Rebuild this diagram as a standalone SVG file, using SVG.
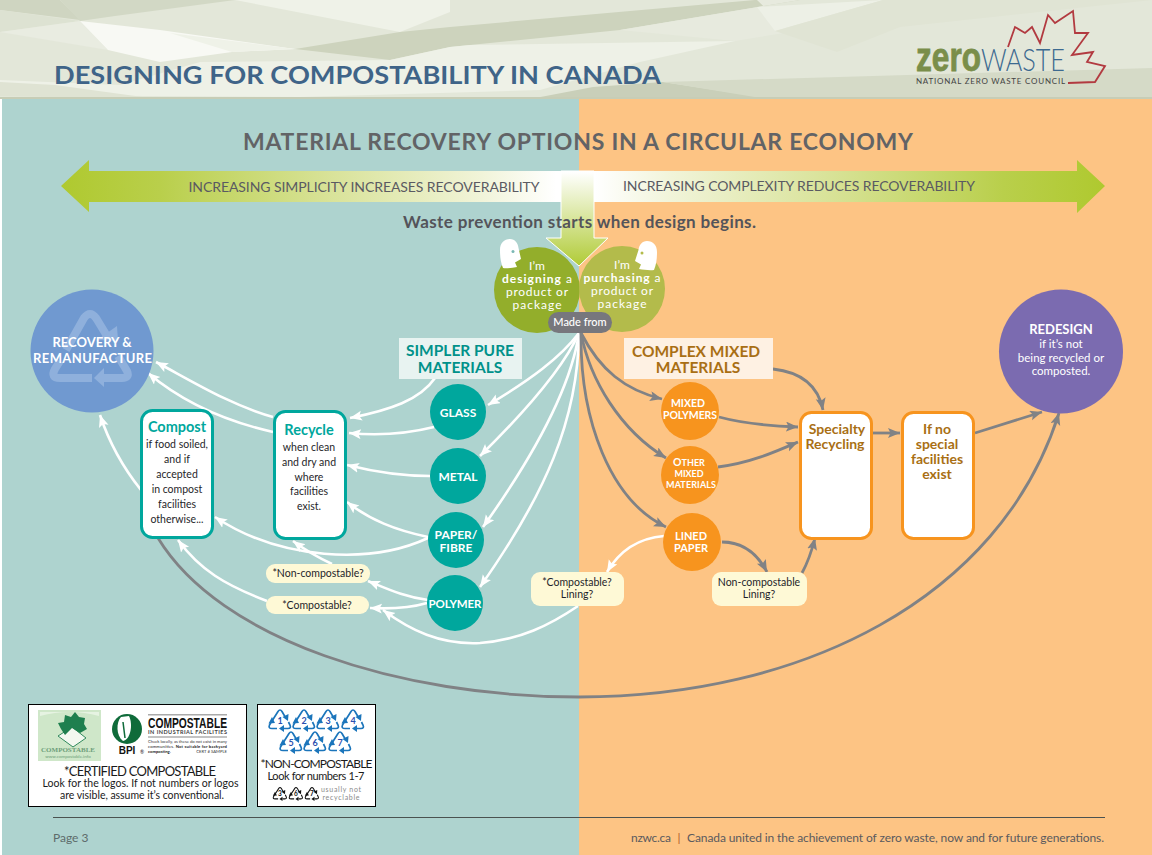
<svg xmlns="http://www.w3.org/2000/svg" xmlns:xlink="http://www.w3.org/1999/xlink" width="1152" height="855" viewBox="0 0 1152 855">
<style>
text{font-family:"Lato","Liberation Sans",sans-serif;text-anchor:middle}
.st{text-anchor:start}.en{text-anchor:end}
.w{fill:none;stroke:#fff;stroke-width:2.6;marker-end:url(#mw)}
.g{fill:none;stroke:#808285;stroke-width:2.8;marker-end:url(#mg)}
.teal{fill:#00A79D}.org{fill:#F7941E}
.tbox{fill:#fff;stroke:#00A79D;stroke-width:3}
.obox{fill:#fff;stroke:#F7941E;stroke-width:3}
.pill{fill:#FEF9D6}
.mat{fill:#fff;font-weight:700}
.small{fill:#1f1f2a;font-size:10.5px}
.pt{fill:#1f1f2a;font-size:10.5px}
.bt{fill:#00A79D;font-weight:700;font-size:14.5px}
.ot{fill:#A96F14;font-weight:700;font-size:14px}
.circ{fill:#fff;font-size:12px}
.rec{fill:none;stroke:#8FB0DC;stroke-width:8}
.tri{fill:none;stroke:currentColor;stroke-width:1.7}
.num{font-size:9px;font-weight:700}
.lg{fill:#1a1a1a}
</style>
<defs>
<marker id="mw" markerUnits="userSpaceOnUse" markerWidth="13" markerHeight="12" refX="12" refY="5" orient="auto"><path d="M0,0L12,5L0,10L2.5,5Z" fill="#fff"/></marker>
<marker id="mg" markerUnits="userSpaceOnUse" markerWidth="13" markerHeight="12" refX="12" refY="5" orient="auto"><path d="M0,0L12,5L0,10L2.5,5Z" fill="#808285"/></marker>
<linearGradient id="gl" gradientUnits="userSpaceOnUse" x1="61" y1="0" x2="556" y2="0"><stop offset="0" stop-color="#AFC92F"/><stop offset=".2" stop-color="#B9CF4B"/><stop offset=".55" stop-color="#D9E39A"/><stop offset=".85" stop-color="#F1F4D9"/><stop offset="1" stop-color="#fff"/></linearGradient>
<linearGradient id="gr" gradientUnits="userSpaceOnUse" x1="1105" y1="0" x2="595" y2="0"><stop offset="0" stop-color="#AFC92F"/><stop offset=".2" stop-color="#B9CF4B"/><stop offset=".55" stop-color="#D9E39A"/><stop offset=".85" stop-color="#F1F4D9"/><stop offset="1" stop-color="#fff"/></linearGradient>
<linearGradient id="gd" gradientUnits="userSpaceOnUse" x1="0" y1="172" x2="0" y2="266"><stop offset="0" stop-color="#fff"/><stop offset="1" stop-color="#B0CB36"/></linearGradient>
<g id="tr">
<path class="tri" d="M-8,2L-2,-7.5Q0,-10.5 2,-7.5L5.5,-1.5"/><path d="M2.5,-2L8.5,-5L8,2Z" fill="currentColor"/>
<path class="tri" d="M8.5,3L10,6Q11.5,9.5 8,9.5L4,9.5"/><path d="M4,6L4,13L-1,9.5Z" fill="currentColor"/>
<path class="tri" d="M-3,9.5L-8,9.5Q-12,9.5 -10.5,6L-8.5,2.5"/><path d="M-11.5,4.5L-8,-2L-5,4Z" fill="currentColor"/>
</g>
</defs>

<g id="background">
<rect width="1152" height="855" fill="#fff"/>
<rect x="2" y="99" width="577" height="756" fill="#AED3CF"/>
<rect x="579" y="99" width="573" height="756" fill="#FDC484"/>
</g>

<g id="header">
<rect width="1152" height="99" fill="#E3E7D9"/>
<polygon points="0,0 60,0 80,20 0,10" fill="#CFD5C1"/>
<polygon points="60,0 235,0 115,16 80,21" fill="#D2D8C5"/>
<polygon points="0,10 80,21 0,32" fill="#DDE2D2"/>
<polygon points="0,32 80,21 108,50 0,32" fill="#E9ECE1"/>
<polygon points="80,21 160,30 295,49 232,52 160,62 108,50" fill="#F8F9F4"/>
<polygon points="160,30 232,52 295,49 170,33" fill="#EFF2E8"/>
<polygon points="235,0 450,0 450,12 400,32" fill="#EFF2E8"/>
<polygon points="295,49 400,32 450,27 755,0 800,0 620,30 470,45 450,47 390,60" fill="#CDD3BD"/>
<polygon points="200,62 390,60 450,47 470,45 735,41 640,62 540,90 300,97 0,95 0,80 120,85" fill="#EEF1E7"/>
<polygon points="620,30 800,0 757,0 790,32 735,41" fill="#E7EADE"/>
<polygon points="757,7 883,0 775,31" fill="#EDF0E6"/>
<polygon points="775,31 837,52 900,27 1152,0 883,0" fill="#E0E4D4"/>
<polygon points="0,82 55,85 157,99 0,96" fill="#DFE3D3"/>
<polygon points="593,87 663,82 767,98 530,99" fill="#C9CFB9"/>
<polygon points="663,82 1152,68 1152,99 767,99" fill="#D5DAC7"/>
<rect y="97" width="1152" height="2" fill="#C7CDB6"/>
</g>

<g id="logo">
<polyline points="1008,47 1015,27 1025,33 1032,27 1040,43 1048,15 1055,23 1073,11 1075,33 1088,33 1072,55 1093,52 1087,62 1105,66 1095,82 1068,83" fill="none" stroke="#B23A40" stroke-width="1.8"/>
<text class="st" x="916" y="71" font-size="40" font-weight="700" fill="#7A8E4A" stroke="#7A8E4A" stroke-width=".8" textLength="65" lengthAdjust="spacingAndGlyphs" style="font-family:'Liberation Sans',sans-serif">zero</text>
<text class="st" x="981" y="71" font-size="31" font-weight="300" fill="#3D6A90" textLength="84" lengthAdjust="spacingAndGlyphs">WASTE</text>
<text class="st" x="916" y="84" font-size="8" font-weight="400" fill="#444" textLength="149">NATIONAL ZERO WASTE COUNCIL</text>
</g>

<text id="title" class="st" x="54" y="84" font-size="24" font-weight="700" fill="#3F6488" textLength="607" lengthAdjust="spacingAndGlyphs">DESIGNING FOR COMPOSTABILITY IN CANADA</text>
<text id="subtitle" x="578" y="150" font-size="23" font-weight="700" fill="#626366" textLength="670">MATERIAL RECOVERY OPTIONS IN A CIRCULAR ECONOMY</text>

<g id="node-designing">
<circle cx="537" cy="290" r="43" fill="#93AE2B"/>
<path d="M500,250C500,243 504,239 510,239C515,239 518,243 518.500,248L521,259L515,262.500L517,267C512,268 506,268.500 503,268C500.500,262 500,256 500,250Z" fill="#fff"/>
<circle cx="513" cy="251.500" r="1.500" fill="#7BB8B4"/>
<text class="circ" x="537" y="270">I’m</text>
<text class="circ" x="537" y="283" textLength="70"><tspan font-weight="700">designing</tspan> a</text>
<text class="circ" x="537" y="296" textLength="62">product or</text>
<text class="circ" x="537" y="309" textLength="49">package</text>
</g>
<g id="node-purchasing">
<circle cx="622" cy="289" r="43" fill="#B3BB4B"/>
<path d="M657,252C657,245 653,241 647,241C642,241 639,245 638.500,250L635,261L641,264.500L639,269C644,270 650,270.500 654,270C656.500,264 657,258 657,252Z" fill="#fff"/>
<circle cx="642" cy="253" r="1.500" fill="#B3BB4B"/>
<text class="circ" x="622" y="269">I’m</text>
<text class="circ" x="622" y="282" textLength="77"><tspan font-weight="700">purchasing</tspan> a</text>
<text class="circ" x="622" y="295" textLength="62">product or</text>
<text class="circ" x="622" y="308" textLength="49">package</text>
</g>

<g id="arrows">
<path d="M61,186L89,160V171H562V202H89V212Z" fill="url(#gl)"/>
<path d="M1105,186L1077,160V171H594V202H1077V213Z" fill="url(#gr)"/>
<path d="M561,171H594V238H608L579,266L546,238H561Z" fill="url(#gd)" stroke="#fff" stroke-width="1"/>
<text x="364" y="192" font-size="14" fill="#5A5A62" textLength="351">INCREASING SIMPLICITY INCREASES RECOVERABILITY</text>
<text x="799" y="191" font-size="14" fill="#5A5A62" textLength="352">INCREASING COMPLEXITY REDUCES RECOVERABILITY</text>
<text x="579.500" y="228" font-size="17" font-weight="700" fill="#54545A" textLength="353">Waste prevention starts when design begins.</text>
</g>

<g id="connectors">
<path class="w" d="M579,333C560,358 530,380 488,405"/>
<path class="w" d="M579,333C566,362 535,402 480,456"/>
<path class="w" d="M579,333C572,380 545,440 483,527"/>
<path class="w" d="M579,333C578,420 545,495 480,587"/>
<path class="w" d="M435,378C420,400 390,410 350,418"/>
<path class="w" d="M434,427C410,433 380,436 349,433"/>
<path class="w" d="M430,476C400,476 375,472 347,465"/>
<path class="w" d="M428,537C395,530 370,520 347,502"/>
<path class="w" d="M428,538C370,565 280,560 215,517"/>
<path class="w" d="M332,564C315,556 305,550 293,541"/>
<path class="w" d="M428,600C405,597 390,590 368,581"/>
<path class="w" d="M427,603C410,608 390,609 370,608"/>
<path class="w" d="M267,601C225,585 200,570 178,540"/>
<path class="w" d="M273,417C230,405 190,380 156,362"/>
<path class="w" d="M273,432C220,420 180,400 148,373"/>
<path class="w" d="M141,490C125,470 110,445 100,415"/>
<path class="w" d="M664,536C640,538 620,550 607,572"/>
<path class="w" d="M578,606C550,625 520,640 480,643C440,645 410,630 383,610"/>
<path class="g" d="M581,333C600,370 625,390 662,399"/>
<path class="g" d="M581,333C590,380 620,430 666,458"/>
<path class="g" d="M581,333C580,420 610,500 666,527"/>
<path class="g" d="M773,369C800,372 818,385 823,410"/>
<path class="g" d="M719,417C745,424 770,426 798,427"/>
<path class="g" d="M718,467C750,463 775,452 798,442"/>
<path class="g" d="M722,542C745,542 758,555 767,572"/>
<path class="g" d="M802,573C808,562 812,550 815,538"/>
<path class="g" d="M873,433L900,433"/>
<path class="g" d="M975,433L1042,412"/>
<path class="g" d="M158,538C220,640 400,697 579,697C800,697 1000,600 1059,413"/>
</g>

<g id="node-madefrom">
<rect x="548" y="312" width="64" height="21" rx="10.500" fill="#77777D"/>
<text x="580" y="326" font-size="11" font-weight="500" fill="#fff">Made from</text>
</g>

<g id="node-recovery">
<circle cx="92" cy="351" r="61.500" fill="#7099D0"/>
<path class="rec" d="M66,350L84,318Q90,310 96,318L107,336"/><path d="M117,326L97,340L118,341Z" fill="#8FB0DC"/>
<path class="rec" d="M118,356L127,371Q130,378 122,378L104,378"/><path d="M104,368L104,387L94,378Z" fill="#8FB0DC"/>
<path class="rec" d="M92,378L60,378Q50,378 55,369L60,361"/>
<text x="92" y="347" font-size="13" font-weight="700" fill="#fff">RECOVERY &amp;</text>
<text x="92.500" y="363" font-size="13" font-weight="700" fill="#fff" textLength="119">REMANUFACTURE</text>
</g>

<g id="node-redesign">
<circle cx="1061" cy="351.500" r="62" fill="#7B6BB0"/>
<text x="1061" y="334" font-size="13" font-weight="700" fill="#fff">REDESIGN</text>
<text x="1061" y="348" font-size="11.500" fill="#fff">if it’s not</text>
<text x="1061" y="362" font-size="11.500" fill="#fff">being recycled or</text>
<text x="1061" y="375" font-size="11.500" fill="#fff">composted.</text>
</g>

<g id="node-compost">
<rect class="tbox" x="141.500" y="410.500" width="71" height="127" rx="11"/>
<text class="bt" x="177" y="432">Compost</text>
<text class="small" x="177" y="448">if food soiled,</text>
<text class="small" x="177" y="463">and if</text>
<text class="small" x="177" y="478">accepted</text>
<text class="small" x="177" y="493">in compost</text>
<text class="small" x="177" y="508">facilities</text>
<text class="small" x="177" y="523">otherwise...</text>
</g>
<g id="node-recycle">
<rect class="tbox" x="274.500" y="411.500" width="71" height="127" rx="11"/>
<text class="bt" x="309" y="435">Recycle</text>
<text class="small" x="309" y="451">when clean</text>
<text class="small" x="309" y="466">and dry and</text>
<text class="small" x="309" y="481">where</text>
<text class="small" x="309" y="495">facilities</text>
<text class="small" x="309" y="510">exist.</text>
</g>

<g id="node-simpler">
<rect x="399" y="338" width="123" height="41" fill="#E8F3F1"/>
<text x="460" y="356" font-size="15.500" font-weight="700" fill="#00918A">SIMPLER PURE</text>
<text x="460" y="373" font-size="15.500" font-weight="700" fill="#00918A">MATERIALS</text>
</g>
<g id="node-complex">
<rect x="624" y="338" width="149" height="41" fill="#FEF1E3"/>
<text x="696" y="357" font-size="15.500" font-weight="700" fill="#A96F14">COMPLEX MIXED</text>
<text x="698" y="373" font-size="15.500" font-weight="700" fill="#A96F14">MATERIALS</text>
</g>

<g id="node-glass"><circle class="teal" cx="458" cy="412" r="28"/><text class="mat" x="458" y="417" font-size="12">GLASS</text></g>
<g id="node-metal"><circle class="teal" cx="458" cy="476" r="28"/><text class="mat" x="458" y="481" font-size="12">METAL</text></g>
<g id="node-paper"><circle class="teal" cx="456" cy="540" r="28"/><text class="mat" x="456" y="539" font-size="12">PAPER/</text><text class="mat" x="456" y="552" font-size="12">FIBRE</text></g>
<g id="node-polymer"><circle class="teal" cx="455" cy="603" r="28"/><text class="mat" x="455" y="608" font-size="11.500" textLength="53">POLYMER</text></g>

<g id="node-mixedpolymers"><circle class="org" cx="690" cy="411" r="29"/><text class="mat" x="688" y="407" font-size="10.500">MIXED</text><text class="mat" x="690" y="419" font-size="10.500" textLength="54">POLYMERS</text></g>
<g id="node-othermixed"><circle class="org" cx="690" cy="475" r="29"/><text class="mat" x="689" y="466" font-size="9"><tspan font-size="10.500">O</tspan>THER</text><text class="mat" x="689" y="477" font-size="9">MIXED</text><text class="mat" x="691" y="488" font-size="9" textLength="50">MATERIALS</text></g>
<g id="node-lined"><circle class="org" cx="692" cy="542" r="29"/><text class="mat" x="691" y="540" font-size="11">LINED</text><text class="mat" x="691" y="552" font-size="11">PAPER</text></g>

<g id="node-noncompostable"><rect class="pill" x="266" y="564" width="104" height="19" rx="9"/><text class="pt" x="318" y="577">*Non-compostable?</text></g>
<g id="node-compostable"><rect class="pill" x="266" y="596" width="103" height="18" rx="9"/><text class="pt" x="317" y="609">*Compostable?</text></g>
<g id="node-complining"><rect class="pill" x="531" y="572" width="93" height="34" rx="9"/><text class="pt" x="577" y="586">*Compostable?</text><text class="pt" x="577" y="598">Lining?</text></g>
<g id="node-nonlining"><rect class="pill" x="712" y="572" width="95" height="34" rx="9"/><text class="pt" x="759" y="586">Non-compostable</text><text class="pt" x="759" y="598">Lining?</text></g>

<g id="node-specialty">
<rect class="obox" x="800.500" y="412.500" width="71" height="126" rx="11"/>
<text class="ot" x="837" y="434">Specialty</text><text class="ot" x="835" y="449">Recycling</text>
</g>
<g id="node-ifno">
<rect class="obox" x="902.500" y="412.500" width="71" height="126" rx="11"/>
<text class="ot" x="937" y="434">If no</text><text class="ot" x="937" y="449">special</text><text class="ot" x="937" y="464">facilities</text><text class="ot" x="937" y="479">exist</text>
</g>

<g id="legend-certified">
<rect x="28.500" y="704.500" width="218" height="102" fill="#fff" stroke="#000" stroke-width="1"/>
<rect x="38" y="710" width="63" height="51" fill="#CFE7C9"/>
<path d="M40,716Q70,708 99,716V712H40Z" fill="#E6F3E2"/>
<path d="M58,736L72,727L86,738L73,747Z" fill="#F3F8F0" stroke="#2F8A5C" stroke-width="1"/>
<path d="M58,723L64,722L65,715L71,717L75,712L79,717L85,718L84,724L87,729L80,733L72,728L65,735L61,729Z" fill="#1E7F4E"/>
<text x="68" y="752" font-size="7" font-weight="700" fill="#6E9E7A" style="font-family:'Liberation Serif',serif">COMPOSTABLE</text>
<text x="68" y="758" font-size="4.500" fill="#6E9E7A">www.compostable.info</text>
<circle cx="127" cy="729" r="15" fill="#0F6B3A"/>
<path d="M121,717C116,722 116,736 123,741C131,739 133,724 129,716Z" fill="#fff"/>
<path d="M123,722L125,738" stroke="#0F6B3A" stroke-width="1.5"/>
<text x="127" y="754" font-size="10" font-weight="700" fill="#111" style="font-family:'Liberation Sans',sans-serif">BPI</text>
<text x="142" y="754" font-size="5" fill="#111">®</text>
<rect x="148" y="714" width="79" height="1.500" fill="#AAA"/>
<text class="st" x="148" y="728" font-size="14" font-weight="700" fill="#111" textLength="79" lengthAdjust="spacingAndGlyphs" style="font-family:'Liberation Sans',sans-serif">COMPOSTABLE</text>
<text class="st" x="148" y="734" font-size="5.500" font-weight="700" fill="#444" textLength="79">IN INDUSTRIAL FACILITIES</text>
<rect x="148" y="736.500" width="79" height="1" fill="#888"/>
<text class="st" x="148" y="743" font-size="4.200" fill="#333" textLength="79">Check locally, as these do not exist in many</text>
<text class="st" x="148" y="748" font-size="4.200" fill="#222" textLength="79">communities. <tspan font-weight="700">Not suitable for backyard</tspan></text>
<text class="st" x="148" y="753" font-size="4.200" font-weight="700" fill="#222">composting.</text>
<text class="en" x="227" y="753" font-size="4.200" fill="#333">CERT # SAMPLE</text>
<text class="lg" x="140" y="776" font-size="13" textLength="152">*CERTIFIED COMPOSTABLE</text>
<text class="lg" x="140.500" y="787" font-size="10.500" textLength="196">Look for the logos. If not numbers or logos</text>
<text class="lg" x="142" y="799" font-size="10.500" textLength="164">are visible, assume it’s conventional.</text>
</g>

<g id="legend-noncompostable">
<rect x="257.500" y="704.500" width="118" height="102" fill="#fff" stroke="#000" stroke-width="1"/>
<g color="#1B75BB" fill="#2A4FB0">
<use xlink:href="#tr" href="#tr" x="280" y="719"/><text class="num" x="280" y="724">1</text>
<use xlink:href="#tr" href="#tr" x="304" y="719"/><text class="num" x="304" y="724">2</text>
<use xlink:href="#tr" href="#tr" x="328" y="719"/><text class="num" x="328" y="724">3</text>
<use xlink:href="#tr" href="#tr" x="353" y="719"/><text class="num" x="353" y="724">4</text>
<use xlink:href="#tr" href="#tr" x="291" y="741"/><text class="num" x="291" y="746">5</text>
<use xlink:href="#tr" href="#tr" x="315" y="741"/><text class="num" x="315" y="746">6</text>
<use xlink:href="#tr" href="#tr" x="340" y="741"/><text class="num" x="340" y="746">7</text>
</g>
<text class="lg" x="316.500" y="768" font-size="12" textLength="112">*NON-COMPOSTABLE</text>
<text class="lg" x="316" y="780" font-size="11" textLength="97">Look for numbers 1-7</text>
<g color="#111" fill="#111">
<use xlink:href="#tr" href="#tr" transform="translate(280,793) scale(.62)"/><text x="280" y="796" font-size="6.500" font-weight="700">3</text>
<use xlink:href="#tr" href="#tr" transform="translate(296,793) scale(.62)"/><text x="296" y="796" font-size="6.500" font-weight="700">6</text>
<use xlink:href="#tr" href="#tr" transform="translate(312,793) scale(.62)"/><text x="312" y="796" font-size="6.500" font-weight="700">7</text>
</g>
<text x="341" y="792" font-size="7" fill="#8A8A8A" textLength="40">usually not</text>
<text x="341" y="800" font-size="7" fill="#8A8A8A" textLength="37">recyclable</text>
</g>

<g id="footer">
<rect x="53" y="817" width="1052" height="1" fill="#4A5250"/>
<text class="st" x="53" y="842" font-size="12" fill="#5D6B6A">Page 3</text>
<text class="st" x="631" y="842" font-size="12" fill="#5A5A5E" textLength="40">nzwc.ca</text>
<text x="679" y="842" font-size="12" fill="#B0562A">|</text>
<text class="en" x="1104" y="842" font-size="12" fill="#5A5A5E" textLength="417">Canada united in the achievement of zero waste, now and for future generations.</text>
</g>
</svg>
